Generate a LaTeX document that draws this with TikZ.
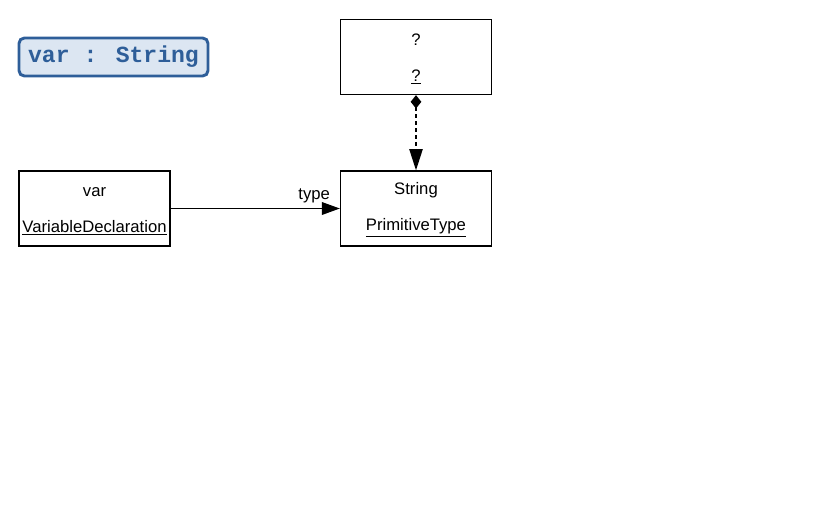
\documentclass[tikz,border=0pt]{standalone}
\usepackage{fontspec}
\setmainfont{Liberation Sans}
\newfontfamily\codefont{Liberation Mono}
\usetikzlibrary{arrows.meta}

\definecolor{titleblue}{HTML}{2E5E99}
\definecolor{titlefill}{HTML}{DCE6F2}

\newcommand{\topgap}{\rule{0pt}{11pt}}

\tikzstyle{obj} = [ draw,line width=1pt,fill=white,align=center,inner sep=0pt,
                    minimum width=113.25pt,minimum height=56.25pt,
                    font=\fontsize{12.5}{15}\selectfont]
\tikzstyle{title} = [ draw=titleblue,line width=2.2pt,fill=titlefill,
                      rounded corners=4pt,inner sep=0pt,
                      minimum width=141.75pt,minimum height=28.5pt,
                      text=titleblue,font=\codefont\bfseries\fontsize{17.3}{20}\selectfont]
\tikzstyle{link} = [ line width=1.1pt ]

\begin{document}
\begin{tikzpicture}[x=0.75pt,y=-0.75pt]
  \useasboundingbox (0,0) rectangle (813,511);

  \node[title] at (113.5,57)  (expr) {var : String};
  \node[obj]   at (94.5,208.5) (var)  {\topgap var\\[12pt]\underline{VariableDeclaration}};
  \node[obj]   at (416,208.5)  (prim) {\topgap String\\[12pt]\underline{PrimitiveType}};
  \node[obj]   at (416,57)     (unk)  {\topgap ?\\[12pt]\underline{?}};

  \draw[link,-{Triangle[length=13.5pt,width=9.5pt]}] (var.east) --
        node[above,pos=0.848,inner sep=3.5pt,font=\fontsize{12.5}{15}\selectfont] {type} (prim.west);
  \draw[link,dash pattern=on 3pt off 2.2pt,
        {Diamond[length=10pt,width=8pt]}-{Triangle[length=16pt,width=10pt]}]
        (unk.south) -- (prim.north);
\end{tikzpicture}
\end{document}
